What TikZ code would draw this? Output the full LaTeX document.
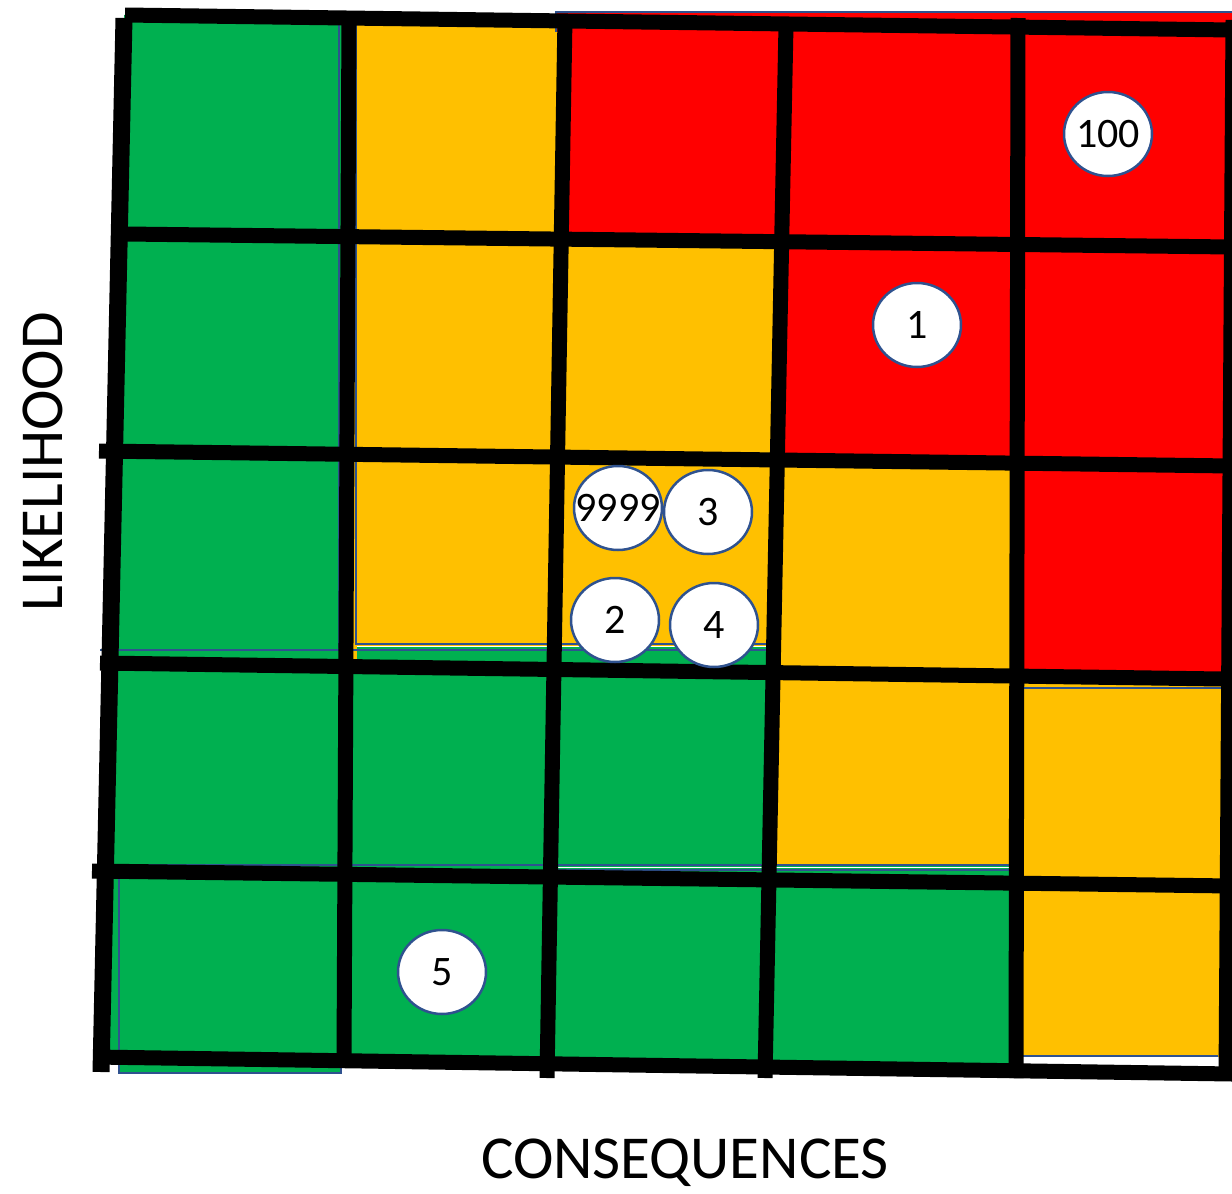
\documentclass[tikz,border=0pt]{standalone}
\usepackage{fontspec}
\setmainfont{Carlito}
\usetikzlibrary{shapes.geometric}
\definecolor{rgreen}{HTML}{00B050}
\definecolor{rorange}{HTML}{FFC000}
\definecolor{rred}{HTML}{FF0000}
\definecolor{oblue}{HTML}{2F528F}
\begin{document}
\begin{tikzpicture}[x=1pt,y=-1pt,
  gridline/.style={line width=15pt, black},
  outline/.style={oblue, line width=1.8pt},
  risk/.style={ellipse, draw=oblue, line width=2.5pt, fill=white,
    minimum width=88pt, minimum height=84pt, inner sep=0pt,
    font=\fontsize{42}{50}\selectfont},
  axislabel/.style={font=\fontsize{61}{72}\selectfont, inner sep=0pt}]
\useasboundingbox (0,0) rectangle (1232,1194);
\fill[white] (0,0) rectangle (1232,1194);
% grid lines (start s / end e)
\coordinate (h0s) at (125,15);   \coordinate (h0e) at (1232,30);
\coordinate (h1s) at (125,234);  \coordinate (h1e) at (1232,247);
\coordinate (h2s) at (99,451);   \coordinate (h2e) at (1232,466);
\coordinate (h3s) at (100,663);  \coordinate (h3e) at (1222,679);
\coordinate (h4s) at (92,871);   \coordinate (h4e) at (1232,886);
\coordinate (h5s) at (95,1057);  \coordinate (h5e) at (1232,1074);
\coordinate (v0s) at (124,18);   \coordinate (v0e) at (101,1072);
\coordinate (v1s) at (349,16);   \coordinate (v1e) at (344,1060);
\coordinate (v2s) at (565,18);   \coordinate (v2e) at (547,1078);
\coordinate (v3s) at (786,25);   \coordinate (v3e) at (765,1078);
\coordinate (v4s) at (1018,18);  \coordinate (v4e) at (1016,1078);
\coordinate (v5s) at (1233,20);  \coordinate (v5e) at (1226,1080);
\foreach \i in {0,...,5}{\foreach \j in {0,...,5}{
  \coordinate (p\i\j) at (intersection of h\i s--h\i e and v\j s--v\j e);}}
% cells
\foreach \a/\b/\col in {0/0/rgreen,0/1/rorange,0/2/rred,0/3/rred,0/4/rred,
 1/0/rgreen,1/1/rorange,1/2/rorange,1/3/rred,1/4/rred,
 2/0/rgreen,2/1/rorange,2/2/rorange,2/3/rorange,2/4/rred,
 3/0/rgreen,3/1/rgreen,3/2/rgreen,3/3/rorange,3/4/rorange,
 4/0/rgreen,4/1/rgreen,4/2/rgreen,4/3/rgreen,4/4/rorange}{
  \pgfmathtruncatemacro\na{\a+1}\pgfmathtruncatemacro\nb{\b+1}
  \fill[\col] (p\a\b) -- (p\a\nb) -- (p\na\nb) -- (p\na\b) -- cycle;}
% details of the underlying shapes
\fill[rred] (556,12) rectangle (1232,32);
\draw[outline, line width=1.5pt] (556,32) -- (556,12) -- (1232,12);
\draw[outline] (339,22) -- (339,648);
\draw[outline] (356,22) -- (356,645);
\fill[rgreen] (357,646) rectangle (770,680);
\draw[outline, line width=1.2pt] (357,644) -- (766,644);
\draw[white, line width=1.5pt] (357,646.5) -- (766,646.5);
\draw[outline, line width=2pt] (100,650) -- (770,650);
\fill[rgreen] (770,866) rectangle (1012,885);
\draw[outline, line width=1.5pt] (100,865) -- (1012,865);
\draw[white, line width=1.5pt] (555,867.5) -- (1012,867.5);
\draw[outline, line width=1.8pt] (555,870) -- (1012,870);
\draw[outline, line width=1.5pt] (1024,688) -- (1222,688);
\fill[rgreen] (119,1050) rectangle (341,1073);
\draw[outline, line width=1.5pt] (119,866) -- (119,1073) -- (341,1073) -- (341,1055);
\fill[white] (1020,1057) rectangle (1222,1078);
\draw[outline, line width=1.5pt] (1022,1056) -- (1218,1056);
% black grid
\foreach \k in {0,...,5}{\draw[gridline] (h\k s) -- (h\k e);}
\draw[gridline, line width=17pt] (v0s) -- (v0e);
\foreach \k in {1,...,5}{\draw[gridline] (v\k s) -- (v\k e);}
% risks
\node[risk] (r100) at (1108,134) {\makebox[0pt]{100}};
\node[risk] (r1) at (917,325) {\makebox[0pt]{1}};
\node[risk] (r9999) at (618,508) {\makebox[0pt]{9999}};
\node[risk] (r3) at (708,512) {\makebox[0pt]{3}};
\node[risk] (r2) at (615,620) {\makebox[0pt]{2}};
\node[risk] (r4) at (714,625) {\makebox[0pt]{4}};
\node[risk] (r5) at (442,972) {\makebox[0pt]{5}};
% axis labels
\node[axislabel, rotate=90] (lik) at (43,462) {LIKELIHOOD};
\node[axislabel, anchor=base] (cons) at (685,1178) {CONSEQUENCES};
\end{tikzpicture}
\end{document}
